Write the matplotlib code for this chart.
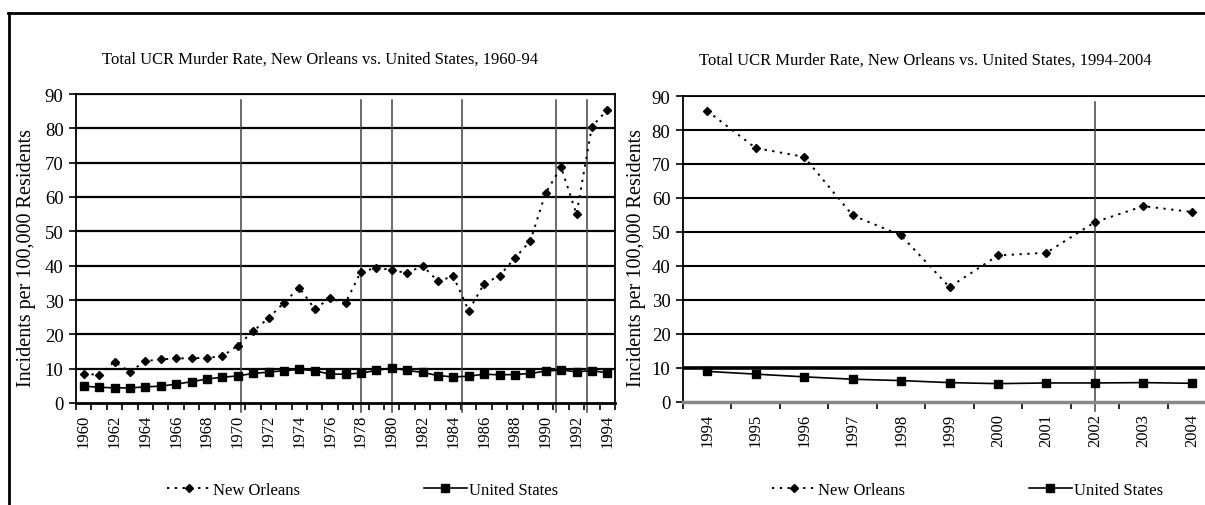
import matplotlib
matplotlib.use("Agg")
import matplotlib.pyplot as plt
from matplotlib.lines import Line2D
import numpy as np

plt.rcParams["font.family"] = ["Liberation Serif", "DejaVu Serif"]

# ---------------- DATA ----------------

years_early = list(range(1960, 1995))
no_early = [8.5, 8.2, 12.0, 9.1, 12.2, 12.7, 13.0, 13.0, 13.2, 13.6,
            16.7, 20.9, 24.7, 29.2, 33.6, 27.4, 30.5, 29.1, 38.3, 39.3,
            38.8, 37.8, 40.0, 35.5, 36.9, 26.9, 34.7, 37.1, 42.2, 47.2,
            61.2, 68.7, 55.0, 80.5, 85.4]
us_early = [4.9, 4.6, 4.4, 4.4, 4.7, 4.9, 5.5, 6.2, 7.0, 7.5,
            7.9, 8.6, 9.0, 9.4, 9.8, 9.4, 8.4, 8.4, 8.7, 9.5,
            10.2, 9.5, 8.9, 8.0, 7.6, 7.8, 8.4, 8.2, 8.3, 8.6,
            9.3, 9.6, 9.1, 9.4, 8.8]

years_late = list(range(1994, 2005))
no_late = [85.6, 74.7, 72.1, 54.9, 49.0, 33.8, 43.1, 43.9, 52.9, 57.6, 55.9]
us_late = [9.0, 8.2, 7.4, 6.7, 6.3, 5.7, 5.4, 5.6, 5.6, 5.7, 5.5]

# marker lines (category position, fractional)
events_early = [10.2, 18.0, 20.05, 24.55, 30.7, 32.7]
events_late = [8.0]

title_early = "Total UCR Murder Rate, New Orleans vs. United States, 1960-94"
title_late = "Total UCR Murder Rate, New Orleans vs. United States, 1994-2004"
ylabel = "Incidents per 100,000 Residents"

# ---------------- FIGURE ----------------

W, H = 1205, 506
fig = plt.figure(figsize=(W / 100, H / 100), dpi=100)


def px_axes(x0, y0, x1, y1):
    return fig.add_axes([x0 / W, 1 - y1 / H, (x1 - x0) / W, (y1 - y0) / H])


def draw_panel(ax, years, no, us, events, label_step, grid_lw, ten_lw):
    n = len(years)
    idx = np.arange(n)
    ax.set_xlim(-0.5, n - 0.5)
    ax.set_ylim(0, 90)

    for v in range(10, 91, 10):
        ax.axhline(v, color="black", lw=ten_lw if v == 10 else grid_lw, zorder=1)

    for e in events:
        ax.plot([e, e], [-2.6, 88.3], color="#444444", lw=1.1,
                clip_on=False, zorder=2)

    ax.plot(idx, no, color="black", lw=1.4, ls=(0, (1.2, 2.8)),
            marker="D", ms=4.2, label="New Orleans", zorder=3)
    ax.plot(idx, us, color="black", lw=1.2, ls="-",
            marker="s", ms=5.5, label="United States", zorder=3)

    ax.set_yticks(range(0, 91, 10))
    ax.tick_params(axis="y", direction="out", length=5, width=1.2,
                   labelsize=13.5, pad=4)

    ax.set_xticks(np.arange(-0.5, n, 1.0))
    ax.set_xticklabels([])
    ax.tick_params(axis="x", which="major", direction="out", length=5, width=1.2)
    ax.set_xticks(idx[::label_step], minor=True)
    ax.set_xticklabels([str(y) for y in years[::label_step]], minor=True,
                       rotation=90, fontsize=12)
    ax.tick_params(axis="x", which="minor", length=0, pad=8)

    for s in ax.spines.values():
        s.set_linewidth(1.3)
    ax.set_facecolor("white")


ax1 = px_axes(76, 95, 615, 404)
draw_panel(ax1, years_early, no_early, us_early, events_early, 2, 1.6, 1.6)
ax1.spines["bottom"].set_linewidth(2)

ax2 = px_axes(683, 97, 1216, 403)
draw_panel(ax2, years_late, no_late, us_late, events_late, 1, 1.5, 2.6)
ax2.spines["bottom"].set_color("#888888")
ax2.spines["bottom"].set_linewidth(2.5)

# titles and axis labels
fig.text(320 / W, 1 - 60 / H, title_early, ha="center", va="center", fontsize=12)
fig.text(925 / W, 1 - 61 / H, title_late, ha="center", va="center", fontsize=12)
fig.text(27 / W, 1 - 258 / H, ylabel, rotation=90, ha="center", va="center",
         fontsize=14.5)
fig.text(637 / W, 1 - 258 / H, ylabel, rotation=90, ha="center", va="center",
         fontsize=14.5)

# legends
for ax, cx in [(ax1, 363), (ax2, 968)]:
    ax.legend(loc="center", bbox_to_anchor=(cx / W, 1 - 491 / H),
              bbox_transform=fig.transFigure, ncol=2, frameon=False,
              handlelength=2.6, handletextpad=0.15, columnspacing=7.4,
              fontsize=12)

# outer frame
fig.add_artist(Line2D([8 / W, 1], [1 - 14 / H, 1 - 14 / H], color="black",
                      lw=2, transform=fig.transFigure))
fig.add_artist(Line2D([9 / W, 9 / W], [0, 1 - 14 / H], color="black",
                      lw=2, transform=fig.transFigure))

fig.savefig("out.png", dpi=100)
